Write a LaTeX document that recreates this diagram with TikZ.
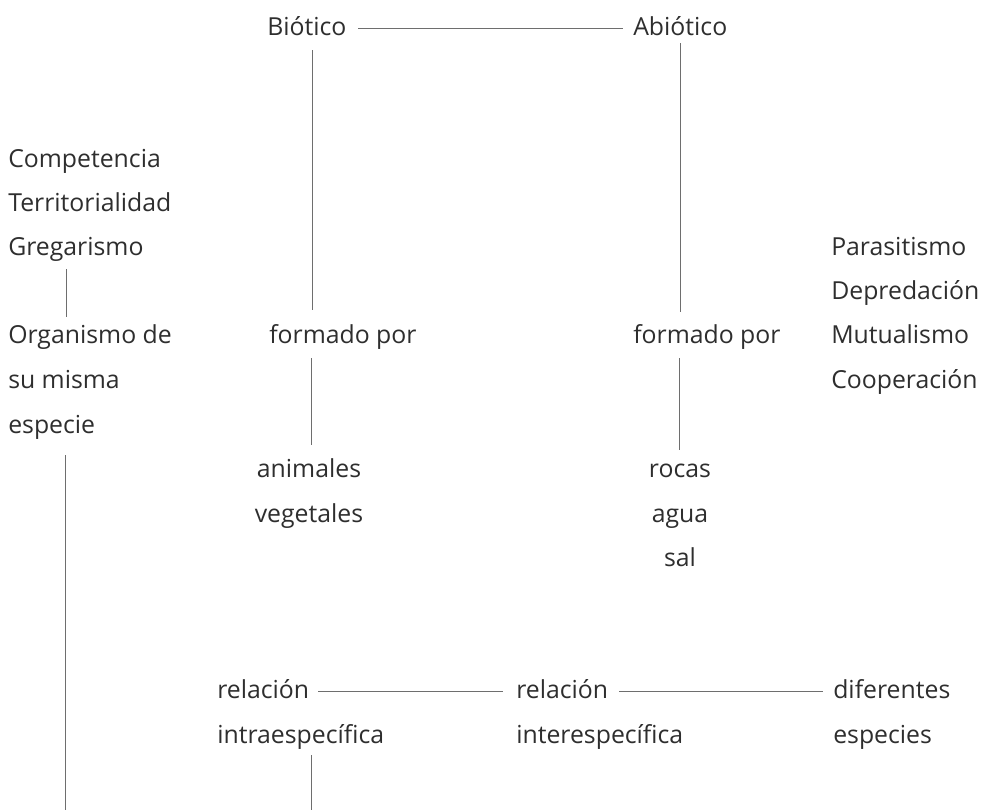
\documentclass[tikz,border=0pt]{standalone}
\usepackage{fontspec}
\setmainfont{Open Sans}
\usetikzlibrary{calc}
\definecolor{txt}{HTML}{2E2E2E}
\definecolor{ln}{HTML}{6E6E6E}
\begin{document}
\begin{tikzpicture}[x=0.75pt,y=-0.75pt,
  lbl/.style={anchor=base west,inner sep=0pt,text=txt,font=\fontsize{18.6}{23}\selectfont},
  clbl/.style={lbl,anchor=base},
  cn/.style={draw=ln,line width=0.75pt}]
\useasboundingbox (0,0) rectangle (982,810);
% top
\node[lbl] (bio) at (267,35) {Biótico};
\node[lbl] (abio) at (633,35) {Abiótico};
% left column
\node[lbl] (comp) at (8,167) {Competencia};
\node[lbl] (terr) at (8,211) {Territorialidad};
\node[lbl] (greg) at (8,255) {Gregarismo};
\node[lbl] (org) at (8,343) {Organismo de};
\node[lbl] (su) at (8,388) {su misma};
\node[lbl] (esp) at (8,433) {especie};
% formado por
\node[lbl] (fpL) at (269,343) {formado por};
\node[lbl] (fpR) at (633,343) {formado por};
\node[clbl] (anim) at (309,477) {animales};
\node[clbl] (veg) at (309,522) {vegetales};
\node[clbl] (rocas) at (680,477) {rocas};
\node[clbl] (agua) at (680,522) {agua};
\node[clbl] (sal) at (680,566) {sal};
% right column
\node[lbl] (par) at (831,255) {Parasitismo};
\node[lbl] (dep) at (831,299) {Depredación};
\node[lbl] (mut) at (831,343) {Mutualismo};
\node[lbl] (coop) at (831,388) {Cooperación};
% relations
\node[lbl] (relL) at (217,698) {relación};
\node[lbl] (intra) at (217,743) {intraespecífica};
\node[lbl] (relM) at (516,698) {relación};
\node[lbl] (inter) at (516,743) {interespecífica};
\node[lbl] (dif) at (833,698) {diferentes};
\node[lbl] (espc) at (833,743) {especies};
\coordinate (bottomL) at (65,810);
\coordinate (bottomM) at (311,810);
% connectors
\draw[cn] ($(bio.base west)+(91,-7)$) -- ($(abio.base west)+(-10,-7)$);
\draw[cn] ($(bio.base west)+(45,15)$) -- ($(fpL.base west)+(43,-33)$);
\draw[cn] ($(abio.base west)+(47,8)$) -- ($(fpR.base west)+(47,-31)$);
\draw[cn] ($(greg.base west)+(58,14)$) -- ($(org.base west)+(58,-26)$);
\draw[cn] ($(esp.base west)+(57,22)$) -- (bottomL);
\draw[cn] ($(fpL.base west)+(42,15)$) -- ($(anim.base)+(2,-32)$);
\draw[cn] ($(fpR.base west)+(46,15)$) -- ($(rocas.base)+(-1,-27)$);
\draw[cn] ($(relL.base west)+(101,-7)$) -- ($(relM.base west)+(-13,-7)$);
\draw[cn] ($(relM.base west)+(103,-7)$) -- ($(dif.base west)+(-10,-7)$);
\draw[cn] ($(intra.base west)+(94,12)$) -- (bottomM);
\end{tikzpicture}
\end{document}
